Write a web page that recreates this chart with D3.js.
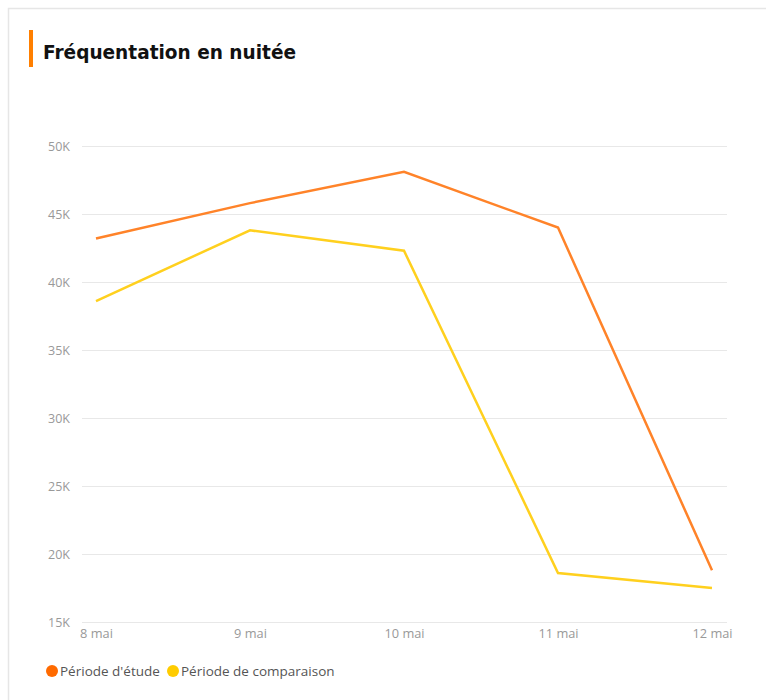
<!DOCTYPE html>
<html>
<head>
<meta charset="utf-8">
<script src="https://cdn.jsdelivr.net/npm/d3@7"></script>
<style>
  html, body { margin: 0; padding: 0; background: #fff; }
  * { font-family: "Noto Sans", "Open Sans", sans-serif; }
</style>
</head>
<body>
<div class="container"></div>
<script>
const days = ["8 mai", "9 mai", "10 mai", "11 mai", "12 mai"];
const etude = [43200, 45800, 48100, 44000, 18800];
const comparaison = [38600, 43800, 42300, 18600, 17500];
const yTicks = [15000, 20000, 25000, 30000, 35000, 40000, 45000, 50000];
const seriesNames = ["Période d'étude", "Période de comparaison"];
const seriesColors = ["#ff8329", "#ffd01e"];
const legendColors = ["#ff6a00", "#ffcc00"];

const width = 766;
const height = 700;

const svg = d3.select(".container")
  .append("svg")
  .attr("width", width)
  .attr("height", height)
  .attr("viewBox", `0 0 ${width} ${height}`);

// card
svg.append("rect")
  .attr("x", 8.5)
  .attr("y", 8.5)
  .attr("width", width + 20)
  .attr("height", height + 20)
  .attr("fill", "#fff")
  .attr("stroke", "#e6e6e6")
  .attr("stroke-width", 1.5);

// title
svg.append("rect")
  .attr("x", 29)
  .attr("y", 30)
  .attr("width", 4)
  .attr("height", 37)
  .attr("fill", "#ff7f00");

svg.append("text")
  .attr("x", 43)
  .attr("y", 59)
  .style("font-family", '"DejaVu Sans", sans-serif')
  .style("font-size", "19px")
  .style("font-weight", "bold")
  .attr("fill", "#111")
  .attr("textLength", 253)
  .attr("lengthAdjust", "spacingAndGlyphs")
  .text("Fréquentation en nuitée");

const x = d3.scalePoint()
  .domain(days)
  .range([96, 712]);

const y = d3.scaleLinear()
  .domain([15000, 50000])
  .range([622, 146]);

// grid
svg.append("g")
  .selectAll("line")
  .data(yTicks)
  .join("line")
  .attr("x1", 82)
  .attr("x2", 727)
  .attr("y1", d => y(d) + 0.5)
  .attr("y2", d => y(d) + 0.5)
  .attr("stroke", "#e8e8e8")
  .attr("stroke-width", 1);

// y axis
const yAxis = svg.append("g")
  .attr("transform", "translate(70,0)")
  .call(d3.axisLeft(y).tickValues(yTicks).tickSize(0).tickFormat(d => d / 1000 + "K"));
yAxis.select(".domain").remove();
yAxis.selectAll("text")
  .attr("x", 0)
  .attr("dy", "0.35em")
  .style("font-size", "12.5px")
  .style("font-family", '"Open Sans", sans-serif')
  .attr("fill", "#999");

// x axis
const xAxis = svg.append("g")
  .attr("transform", "translate(0,626)")
  .call(d3.axisBottom(x).tickSize(0));
xAxis.select(".domain").remove();
xAxis.selectAll("text")
  .attr("y", 3)
  .style("font-size", "12.8px")
  .style("font-family", '"Open Sans", sans-serif')
  .attr("fill", "#999");

// lines
const line = d3.line()
  .x((d, i) => x(days[i]))
  .y(d => y(d));

[comparaison, etude].forEach((vals, k) => {
  svg.append("path")
    .datum(vals)
    .attr("d", line)
    .attr("fill", "none")
    .attr("stroke", seriesColors[1 - k])
    .attr("stroke-width", 2.5)
    .attr("stroke-linejoin", "miter");
});

// legend
const legendX = [52, 173];
seriesNames.forEach((name, i) => {
  svg.append("circle")
    .attr("cx", legendX[i])
    .attr("cy", 671)
    .attr("r", 6)
    .attr("fill", legendColors[i]);
  svg.append("text")
    .attr("x", legendX[i] + 8)
    .attr("y", 676)
    .style("font-size", "13.5px")
    .style("font-family", '"Open Sans", sans-serif')
    .attr("fill", "#555")
    .text(name);
});
</script>
</body>
</html>
